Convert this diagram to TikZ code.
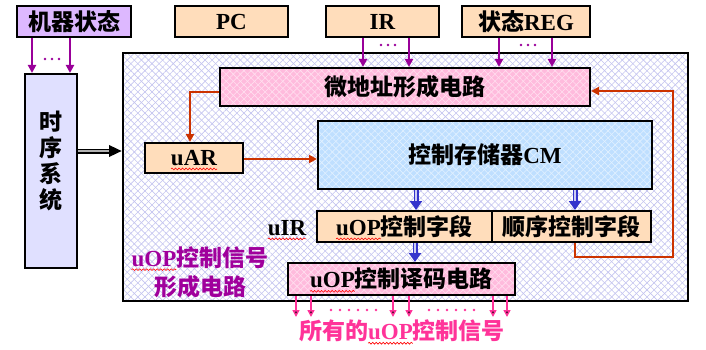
\documentclass[tikz,border=0pt]{standalone}
\usepackage{fontspec}
\setmainfont{Liberation Serif}
\newfontfamily\cjk{Noto Sans CJK SC}
\usetikzlibrary{arrows.meta,patterns.meta,decorations.pathmorphing}

\definecolor{statebox}{HTML}{DDB8FF}
\definecolor{timebox}{HTML}{E0E0FF}
\definecolor{peach}{HTML}{FFDDBB}
\definecolor{pinkbox}{HTML}{FFBBDD}
\definecolor{cmblue}{HTML}{BFDFFF}
\definecolor{hatch}{HTML}{C4C4F0}
\definecolor{sigpurple}{HTML}{990099}
\definecolor{linkred}{HTML}{CC3300}
\definecolor{sigpink}{HTML}{FF3399}
\definecolor{textpurple}{HTML}{A0009C}
\definecolor{arrowblue}{HTML}{3333CC}

% Chinese text and red wavy underline
\newcommand\zh[1]{{\cjk #1}}
\newsavebox\wvbox
\newdimen\wvlen
\newcommand\wv[1]{\sbox\wvbox{#1}\wvlen=\wd\wvbox\leavevmode
  \tikz[x=1pt,y=1pt,baseline=0pt,overlay]\draw[red,line width=0.6pt,decorate,
    decoration={snake,amplitude=0.9pt,segment length=3.5pt}] (0,-3.5) -- (\wvlen,-3.5);%
  \usebox\wvbox}

\begin{document}
\begin{tikzpicture}[x=1pt,y=-1pt,
  font=\fontsize{23}{26}\selectfont\bfseries,
  box/.style={draw=black, line width=2pt, inner sep=0pt},
  % colour fill with a crosshatch laid under the outline
  hatchfill/.style 2 args={preaction={fill=#1},
      preaction={pattern={Lines[angle=45,distance=5pt,line width=0.6pt]}, pattern color=#2},
      preaction={pattern={Lines[angle=-45,distance=5pt,line width=0.6pt]}, pattern color=#2}},
  sig/.style={draw=sigpurple, line width=2pt, -{Triangle[width=8pt,length=8pt]}},
  link/.style={draw=linkred, line width=2pt, -{Triangle[width=8pt,length=8pt]}},
  outsig/.style={draw=sigpink, line width=1.5pt, -{Triangle[width=7pt,length=7pt]}},
  hollow/.style={draw=arrowblue, line width=5pt, -{Triangle[width=12pt,length=9pt]},
                 postaction={draw=white!75!arrowblue, line width=2pt, -, shorten >=9pt}},
  bus/.style={draw=black, line width=5pt, -{Triangle[width=11pt,length=13pt]},
              postaction={draw=gray!60, line width=2pt, -, shorten >=13pt}}
]
\useasboundingbox (0,0) rectangle (706,350);

% control unit frame with crosshatch
\node[box, hatchfill={white}{hatch}, minimum width=565pt, minimum height=248pt]
      (frame) at (405.5,177) {};

% inputs
\node[box, fill=statebox, minimum width=114pt, minimum height=31pt] (ms) at (74,22) {\zh{机器状态}};
\node[box, fill=peach, minimum width=113pt, minimum height=31pt] (pc) at (231.5,22) {PC};
\node[box, fill=peach, minimum width=113pt, minimum height=31pt] (ir) at (382.5,22) {IR};
\node[box, fill=peach, minimum width=128pt, minimum height=31pt] (sreg) at (526,22) {\zh{状态}REG};

% timing system
\node[box, fill=timebox, minimum width=52pt, minimum height=194pt] (ts) at (51,171) {};
\node[align=center] (tstext) at (51,161) {\zh{时}\\\zh{序}\\\zh{系}\\\zh{统}};

% internal blocks
\node[box, hatchfill={pinkbox}{white!55!pinkbox}, minimum width=370pt, minimum height=38pt] (maddr) at (405,87) {\zh{微地址形成电路}};
\node[box, fill=peach, minimum width=98pt, minimum height=30pt] (uar) at (194,158) {\wv{uAR}};
\node[box, hatchfill={cmblue}{white!55!cmblue}, minimum width=334pt, minimum height=68pt] (cm) at (485,155) {\zh{控制存储器}CM};
\node[box, fill=peach, minimum width=175pt, minimum height=31pt] (uop) at (404.5,226.5) {\wv{uOP}\zh{控制字段}};
\node[box, fill=peach, minimum width=159pt, minimum height=31pt] (seq) at (571.5,226.5) {\zh{顺序控制字段}};
\node[box, hatchfill={pinkbox}{white!55!pinkbox}, minimum width=227pt, minimum height=32pt] (dec) at (401.5,279) {\wv{uOP}\zh{控制译码电路}};

\node (uir) at (287,228) {\wv{uIR}};
\node[text=textpurple, align=center, font=\fontsize{23}{29}\selectfont\bfseries] (sigform) at (200,272)
  {\wv{uOP}\zh{控制信号}\\\zh{形成电路}};
\node[text=sigpink] (allsig) at (402,331) {\zh{所有的}\wv{uOP}\zh{控制信号}};

% machine state -> timing system
\draw[sig] (ms.south -| 32,0) -- (ts.north -| 32,0);
\draw[sig] (ms.south -| 70,0) -- (ts.north -| 70,0);
\foreach \x in {45,52,59} \fill[sigpurple] (\x,59) circle (1.4);

% IR and state register -> micro-address circuit
\draw[sig] (ir.south -| 363,0) -- (maddr.north -| 363,0);
\draw[sig] (ir.south -| 409,0) -- (maddr.north -| 409,0);
\draw[sig] (sreg.south -| 499,0) -- (maddr.north -| 499,0);
\draw[sig] (sreg.south -| 552,0) -- (maddr.north -| 552,0);
\foreach \x in {381,388,395} \fill[sigpurple] (\x,45) circle (1.4);
\foreach \x in {521,528,535} \fill[sigpurple] (\x,45) circle (1.4);

% timing system -> control unit
\draw[bus] (ts.east |- 0,151) -- (frame.west |- 0,151);

% address path
\coordinate (ma1) at (190,92);
\draw[link] (maddr.west |- ma1) -- (ma1) -- (uar.north -| ma1);
\draw[link] (uar.east |- 0,159) -- (cm.west |- 0,159);
\coordinate (r1) at (575,257);
\coordinate (r2) at (673,257);
\coordinate (r3) at (673,91);
\draw[link] (seq.south -| r1) -- (r1) -- (r2) -- (r3) -- (maddr.east |- r3);

% control memory -> micro-instruction register -> decoder
\draw[hollow] (cm.south -| 416,0) -- (uop.north -| 416,0);
\draw[hollow] (cm.south -| 575,0) -- (seq.north -| 575,0);
\draw[hollow] (uop.south -| 415,0) -- (dec.north -| 415,0);

% decoded control signals
\foreach \x [count=\i] in {296,311,393,409,493,507} {
  \coordinate (o\i) at (\x,317);
  \draw[outsig] (dec.south -| o\i) -- (o\i);
}
\foreach \x in {331,340,...,376} \fill[sigpink] (\x,310) circle (1.3);
\foreach \x in {429,438,...,474} \fill[sigpink] (\x,310) circle (1.3);

\end{tikzpicture}
\end{document}
